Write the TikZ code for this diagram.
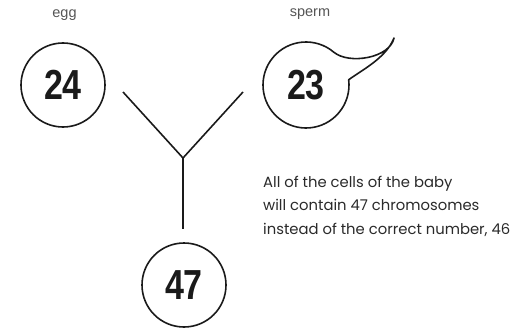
\documentclass[tikz,border=0pt]{standalone}
\usepackage{fontspec}
\setmainfont{Poppins}
\newfontfamily\numfont{Liberation Sans}
\newfontfamily\labfont{Liberation Sans}
\definecolor{ink}{HTML}{1A1A1A}
\definecolor{labgray}{HTML}{555555}
\definecolor{txtgray}{HTML}{2A2A2A}
\begin{document}
\begin{tikzpicture}[x=1pt,y=1pt,
  cell/.style={circle, minimum size=84pt, inner sep=0pt, line width=1.6pt, draw=ink},
  num/.style={font=\numfont\bfseries\fontsize{42}{42}\selectfont, text=ink},
  lab/.style={font=\labfont\fontsize{14.5}{16}\selectfont, text=labgray},
  link/.style={line width=1.6pt, draw=ink}]
\useasboundingbox (0,0) rectangle (514,330);

% egg cell
\node[cell] (egg) at (63,245) {};
\node[num] (eggn) at (egg.center) {\scalebox{0.81}[1]{24}};
\node[lab] (egglab) at (64.5,315) {egg};

% sperm cell with its tail
\node[circle, minimum size=86pt, inner sep=0pt] (sperm) at (306,245) {};
\coordinate (tip) at (394,292);
\draw[link, line join=round] (sperm.center) ++(50:43) arc[start angle=50, end angle=367, radius=43]
  .. controls (362,260) and (386,272) .. (tip)
  .. controls (390,272) and (349,265) .. cycle;
\node[num] (spermn) at (sperm.center) {\scalebox{0.81}[1]{23}};
\node[lab] (spermlab) at (310,316) {sperm};

% joining lines
\coordinate (la) at (123,238);
\coordinate (ra) at (243,238);
\coordinate (j) at (183,172);
\coordinate (stem) at (183,101);
\draw[link] (la) -- (j) -- (ra);
\draw[link] (j) -- (stem);

% resulting cell
\node[cell] (baby) at (184,45) {};
\node[num] (babyn) at (baby.center) {\scalebox{0.81}[1]{47}};

% note
\node[anchor=west, align=left, inner sep=0pt, text=txtgray,
  font=\fontsize{14.8}{23.5}\selectfont] (note) at (263,124)
  {All of the cells of the baby\\will contain 47 chromosomes\\instead of the correct number, 46};
\end{tikzpicture}
\end{document}
